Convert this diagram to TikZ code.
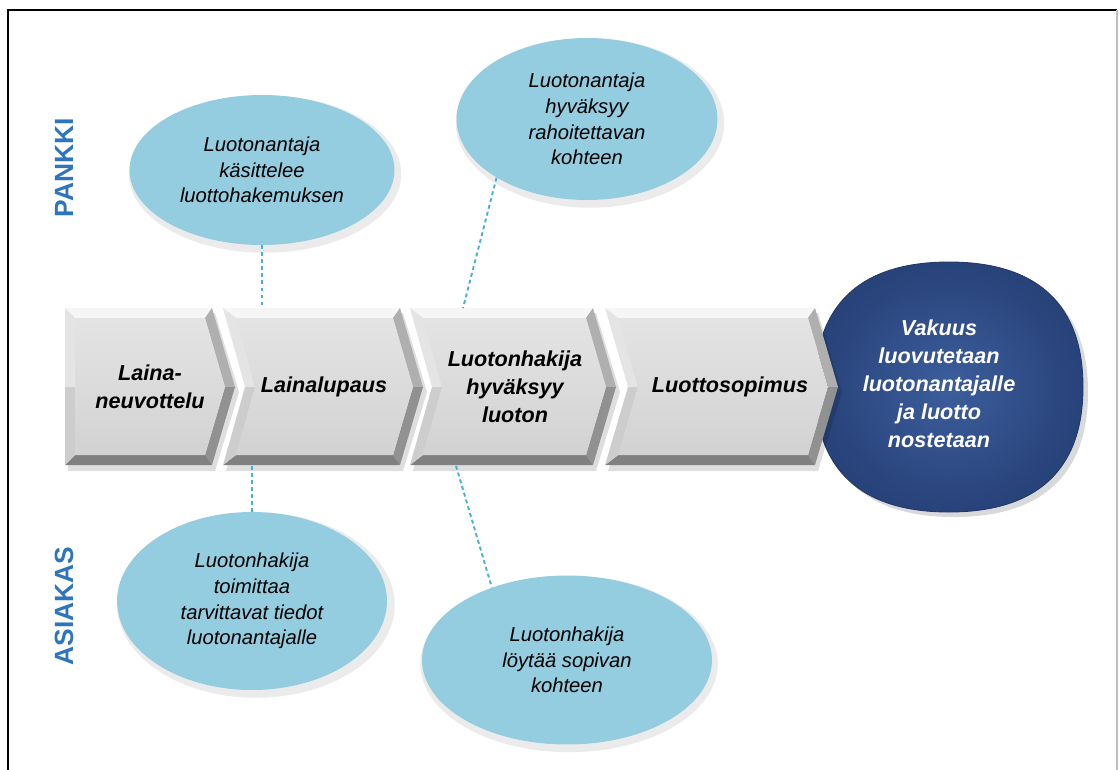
\documentclass[tikz,border=0pt]{standalone}
\usepackage{fontspec}
\setmainfont{Liberation Sans}
\usetikzlibrary{shapes.geometric,calc}
\definecolor{bubble}{RGB}{147,205,223}
\definecolor{lane}{RGB}{46,117,190}
\definecolor{dashc}{RGB}{72,176,214}
\definecolor{goalin}{RGB}{60,94,156}
\definecolor{goalout}{RGB}{40,66,122}
\definecolor{cvtop}{RGB}{246,246,246}
\definecolor{cvur}{RGB}{175,175,175}
\definecolor{cvlr}{RGB}{145,145,145}
\definecolor{cvbot}{RGB}{128,128,128}
\definecolor{cvll}{RGB}{205,205,205}
\definecolor{cvul}{RGB}{228,228,228}
\definecolor{cvfacet}{RGB}{228,228,228}
\definecolor{cvfaceb}{RGB}{210,210,210}
\newcommand\chevbody[3]{%
 \fill[black,opacity=0.13] ({#1+3},313) -- ({#2+3},313) -- ({#2+27},392) -- ({#2+3},471) -- ({#1+3},471) -- ({#1+#3+3},392) -- cycle;
 \fill[cvtop] (#1,308) -- (#2,308) -- ({#2-7},318) -- ({#1+10+0.14*#3},318) -- cycle;
 \fill[cvur] (#2,308) -- ({#2+23},387) -- ({#2+13},387) -- ({#2-7},318) -- cycle;
 \fill[cvlr] ({#2+23},387) -- (#2,465) -- ({#2-7},455) -- ({#2+13},387) -- cycle;
 \fill[cvbot] (#2,465) -- (#1,465) -- ({#1+10+0.14*#3},455) -- ({#2-7},455) -- cycle;
 \fill[cvll] (#1,465) -- ({#1+#3},387) -- ({#1+#3+10},387) -- ({#1+10+0.14*#3},455) -- cycle;
 \fill[cvul] ({#1+#3},387) -- (#1,308) -- ({#1+10+0.14*#3},318) -- ({#1+#3+10},387) -- cycle;
 \shade[top color=cvfacet,bottom color=cvfaceb] ({#1+10+0.14*#3},318) -- ({#2-7},318) -- ({#2+13},387) -- ({#2-7},455) -- ({#1+10+0.14*#3},455) -- ({#1+#3+10},387) -- cycle;
}
\tikzset{
  bubblenode/.style={ellipse,fill=bubble,inner sep=0pt,align=center,
    font=\fontsize{11.5}{14.6}\selectfont\itshape},
  bubbleshadow/.style={ellipse,fill=black,opacity=0.08,inner sep=0pt},
  cvtext/.style={align=center,inner sep=0pt,minimum height=3.14cm,
    font=\fontsize{12.3}{16}\selectfont\bfseries\itshape},
  goaltext/.style={align=center,inner sep=0pt,text=white,
    font=\fontsize{12.3}{16}\selectfont\bfseries\itshape},
  lanelabel/.style={text=lane,inner sep=0pt,font=\fontsize{15}{18}\selectfont\bfseries},
  link/.style={dashc,line width=1.1pt,dash pattern=on 2.2pt off 1.8pt}
}
\begin{document}
\begin{tikzpicture}[x=0.02cm,y=-0.02cm]
\useasboundingbox (0,0) rectangle (1120,769);
% frame
\draw[black,line width=1.3pt] (8,790) -- (8,10) -- (1117,10);
\draw[gray!50,line width=0.6pt] (1117,10) -- (1117,790);

% bubble shadows
\node[bubbleshadow,minimum width=5.45cm,minimum height=3.15cm] at (265,174) {};
\node[bubbleshadow,minimum width=5.37cm,minimum height=3.39cm] at (590,123) {};
\node[bubbleshadow,minimum width=5.55cm,minimum height=3.71cm] at (256,605) {};
\node[bubbleshadow,minimum width=5.95cm,minimum height=3.53cm] at (569,664) {};

% bubbles
\node[bubblenode,minimum width=5.3cm,minimum height=3.0cm] (e1) at (262,170)
  {Luotonantaja\\käsittelee\\luottohakemuksen};
\node[bubblenode,minimum width=5.22cm,minimum height=3.24cm] (e2) at (587,119)
  {Luotonantaja\\hyväksyy\\rahoitettavan\\kohteen};
\node[bubblenode,minimum width=5.4cm,minimum height=3.56cm] (e3) at (252,601)
  {Luotonhakija\\toimittaa\\tarvittavat tiedot\\luotonantajalle};
\node[bubblenode,minimum width=5.8cm,minimum height=3.38cm] (e4) at (567,660)
  {Luotonhakija\\löytää sopivan\\kohteen};

% chevrons
\chevbody{65}{212}{0}
\chevbody{223}{400}{22}
\chevbody{410}{593}{22}

% goal circle
\fill[black,opacity=0.15] (1088,392) .. controls (1088,{392-0.66*125}) and ({954+0.66*134},267) .. (954,267)
  .. controls ({954-0.66*134},267) and (820,{392-0.66*125}) .. (820,392)
  .. controls (820,{392+0.66*125}) and ({954-0.66*134},517) .. (954,517)
  .. controls ({954+0.66*134},517) and (1088,{392+0.66*125}) .. cycle;
\shade[inner color=goalin,outer color=goalout,draw=goalout!85!black,line width=0.5pt]
  (1083,387) .. controls (1083,{387-0.66*125}) and ({949+0.66*134},262) .. (949,262)
  .. controls ({949-0.66*134},262) and (815,{387-0.66*125}) .. (815,387)
  .. controls (815,{387+0.66*125}) and ({949-0.66*134},512) .. (949,512)
  .. controls ({949+0.66*134},512) and (1083,{387+0.66*125}) .. cycle;

\chevbody{605}{815}{23}

% chevron texts
\node[cvtext] (c1) at (150,387) {Laina-\\neuvottelu};
\node[cvtext] (c2) at (324,387) {Lainalupaus};
\node[cvtext] (c3) at (515,387) {Luotonhakija\\hyväksyy\\luoton};
\node[cvtext] (c4) at (730,387) {Luottosopimus};
\node[goaltext] (goal) at (939,384) {Vakuus\\luovutetaan\\luotonantajalle\\ja luotto\\nostetaan};

% lane labels
\node[lanelabel,rotate=90] (pankki) at (64,168) {PANKKI};
\node[lanelabel,rotate=90] (asiakas) at (64,606) {ASIAKAS};

% dashed links
\draw[link] (e1.south) -- (e1.south |- c2.north);
\draw[link] (e2.213) -- ([xshift=-1.04cm]c3.north);
\draw[link] (e3.north |- c2.south) -- (e3.north);
\draw[link] ([xshift=-1.18cm]c3.south) -- (e4.136);
\end{tikzpicture}
\end{document}
